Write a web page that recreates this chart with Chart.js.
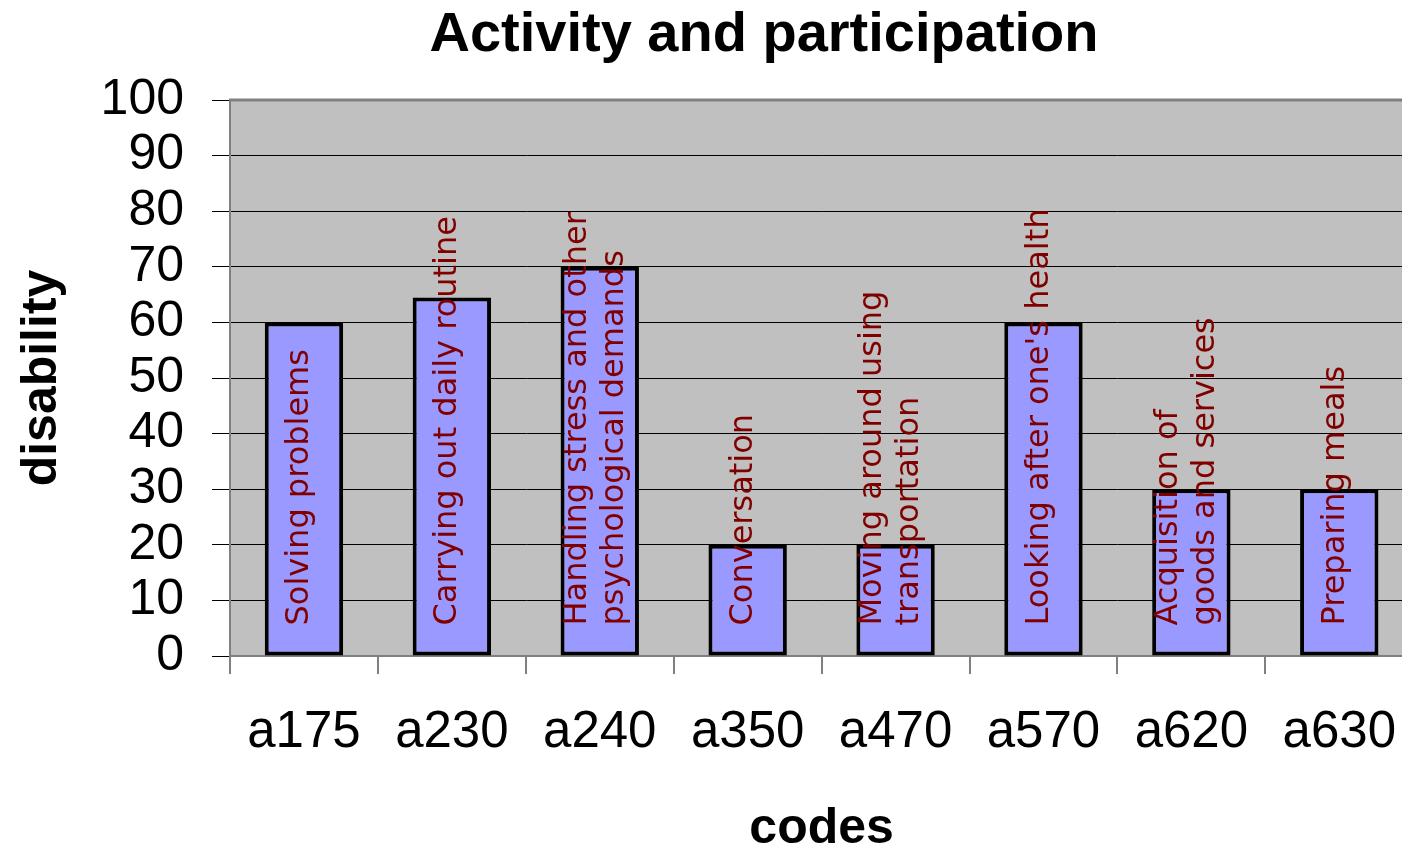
<!DOCTYPE html>
<html>
<head>
<meta charset="utf-8">
<title>Activity and participation</title>
<script src="https://cdn.jsdelivr.net/npm/chart.js@4.4.0/dist/chart.umd.min.js"></script>
<style>
    html, body { margin: 0; padding: 0; background: #fff; overflow: hidden; }
    #activityChart { display: block; width: 1424px; height: 848px; }
</style>
</head>
<body>
<canvas id="activityChart" width="1424" height="848"></canvas>
<script>
// chart data
const codes = ['a175', 'a230', 'a240', 'a350', 'a470', 'a570', 'a620', 'a630'];
const disability = [60, 64.5, 70, 20, 20, 60, 30, 30];
const activityNames = [
    ['Solving problems'],
    ['Carrying out daily routine'],
    ['Handling stress and other', 'psychological demands'],
    ['Conversation'],
    ['Moving around using', 'transportation'],
    ["Looking after one's health"],
    ['Acquisition of', 'goods and services'],
    ['Preparing meals']
];
const chartTitle = 'Activity and participation';
const yTitle = 'disability';
const xTitle = 'codes';

const SANS = '"Liberation Sans", Arial, sans-serif';

// grey plot background + top frame line + main title
const plotFrame = {
    id: 'plotFrame',
    beforeDraw(chart) {
        const { ctx, chartArea: a } = chart;
        ctx.save();
        ctx.fillStyle = '#c0c0c0';
        ctx.fillRect(a.left, a.top, a.right - a.left, a.bottom - a.top);
        ctx.restore();
    },
    afterDraw(chart) {
        const { ctx, chartArea: a } = chart;
        ctx.save();
        ctx.strokeStyle = '#808080';
        ctx.lineWidth = 3;
        ctx.beginPath();
        ctx.moveTo(a.left - 1, a.top);
        ctx.lineTo(a.right, a.top);
        ctx.stroke();

        ctx.fillStyle = '#000';
        ctx.font = 'bold 56px ' + SANS;
        ctx.textAlign = 'center';
        ctx.textBaseline = 'middle';
        ctx.fillText(chartTitle, 764, 36);
        ctx.restore();
    }
};

// vertical names written inside each bar, starting near its base
const barNames = {
    id: 'barNames',
    afterDatasetsDraw(chart) {
        const { ctx } = chart;
        const meta = chart.getDatasetMeta(0);
        const lineGap = 37;
        meta.data.forEach((bar, i) => {
            const lines = activityNames[i] || [];
            ctx.save();
            ctx.translate(bar.x - 4, bar.base - 30);
            ctx.rotate(-Math.PI / 2);
            ctx.font = '32px "DejaVu Sans", Verdana, sans-serif';
            ctx.fillStyle = '#800000';
            ctx.textAlign = 'left';
            ctx.textBaseline = 'middle';
            lines.forEach((line, j) => {
                ctx.fillText(line, 0, (j - (lines.length - 1) / 2) * lineGap);
            });
            ctx.restore();
        });
    }
};

document.addEventListener('DOMContentLoaded', function () {
    const ctx = document.getElementById('activityChart').getContext('2d');
    new Chart(ctx, {
        type: 'bar',
        data: {
            labels: codes,
            datasets: [{
                label: yTitle,
                data: disability,
                backgroundColor: '#9999ff',
                borderColor: '#000',
                borderWidth: 4,
                borderSkipped: false,
                barPercentage: 0.53,
                categoryPercentage: 1
            }]
        },
        options: {
            responsive: false,
            animation: false,
            devicePixelRatio: 1,
            layout: { padding: { top: 100, left: 0, right: 0, bottom: 0 } },
            plugins: {
                legend: { display: false },
                title: { display: false },
                tooltip: { enabled: false }
            },
            scales: {
                x: {
                    offset: true,
                    grid: {
                        offset: true,
                        drawOnChartArea: false,
                        tickLength: 18,
                        color: '#808080',
                        lineWidth: 2
                    },
                    border: { color: '#808080', width: 2 },
                    ticks: {
                        color: '#000',
                        font: { family: SANS, size: 51 },
                        padding: 28,
                        maxRotation: 0,
                        autoSkip: false
                    },
                    title: {
                        display: true,
                        text: xTitle,
                        color: '#000',
                        font: { family: SANS, size: 50, weight: 'bold', lineHeight: 1 },
                        padding: { top: 0, bottom: -6 }
                    },
                    afterFit(scale) { scale.height = 192; }
                },
                y: {
                    min: 0,
                    max: 100,
                    grid: { color: '#000', lineWidth: 1, tickLength: 18 },
                    border: { color: '#808080', width: 2 },
                    ticks: {
                        stepSize: 10,
                        autoSkip: false,
                        color: '#000',
                        font: { family: SANS, size: 50 },
                        padding: 28
                    },
                    title: {
                        display: true,
                        text: yTitle,
                        color: '#000',
                        font: { family: SANS, size: 50, weight: 'bold', lineHeight: 1.2 },
                        padding: { top: 12, bottom: 0 }
                    },
                    afterFit(scale) { scale.width = 230; }
                }
            }
        },
        plugins: [plotFrame, barNames]
    });
});
</script>
</body>
</html>
